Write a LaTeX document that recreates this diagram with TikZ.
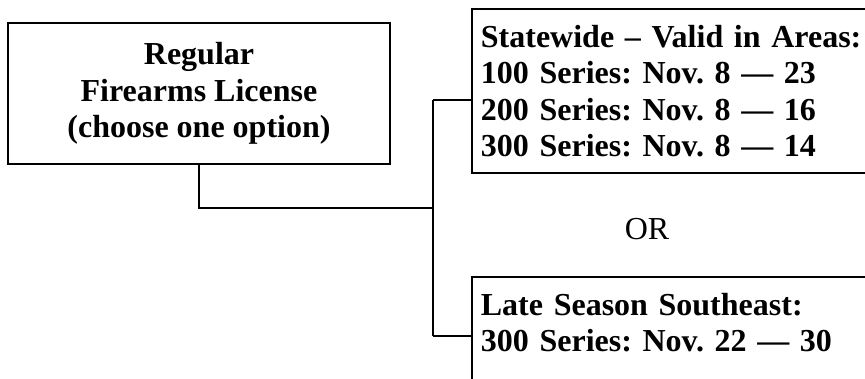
\documentclass[tikz,border=0pt]{standalone}
\usepackage{fontspec}
\setmainfont{Liberation Serif}
\begin{document}
\frenchspacing
\begin{tikzpicture}[x=1pt,y=-1pt,
  boxline/.style={draw=black,line width=1.8pt},
  wire/.style={draw=black,line width=1.4pt},
  bigtext/.style={font=\fontsize{32}{36.5}\selectfont\bfseries\frenchspacing},
  optbox/.style={boxline,bigtext,anchor=north west,align=left,text width=392pt,inner xsep=9pt,inner ysep=16pt}]
\useasboundingbox (0,0) rectangle (865,379);
\clip (0,0) rectangle (865,379);
\node[boxline,bigtext,align=center,minimum width=382pt,minimum height=141pt,inner sep=0pt] (lic) at (199,93.5)
  {Regular\\Firearms License\\(choose one option)};
\node[optbox] (state) at (471,8)
  {Statewide – Valid in Areas:\\100 Series: Nov. 8 — 23\\200 Series: Nov. 8 — 16\\300 Series: Nov. 8 — 14};
\node[optbox] (late) at (471,276)
  {Late Season Southeast:\\300 Series: Nov. 22 — 30\\\strut};
\node[font=\fontsize{32}{36.5}\selectfont,anchor=base] (or) at (647,240) {OR};
\coordinate (j) at (433,208);
\coordinate (t) at (433,100);
\coordinate (b) at (433,336);
\draw[wire] (lic.south) |- (j);
\draw[wire] (t) -- (b);
\draw[wire] (t) -- (t -| state.west);
\draw[wire] (b) -- (b -| late.west);
\end{tikzpicture}
\end{document}
